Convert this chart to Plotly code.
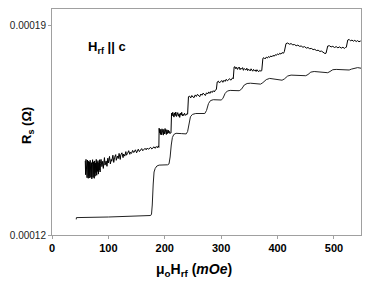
import plotly.graph_objects as go

# ---- data (field in mOe, surface resistance in units of 1e-4 Ohm) ----
lower_x = [43.0, 43.3, 100, 150, 175, 176.5, 177.8, 179.5, 181, 183, 186, 190, 198, 205,
           207.5, 209.5, 211.5, 213.5, 216, 220, 230, 238, 240.5, 243, 245.5, 249, 255, 271,
           274, 277.5, 281, 286, 300, 303, 307, 311, 316, 332, 336, 341, 346, 352, 370,
           374, 380, 386, 392, 408, 412, 418, 424, 430, 450, 454, 459, 465, 475, 489,
           493, 498, 504, 515, 527, 531, 537, 542, 548]
lower_y = [1.252, 1.258, 1.260, 1.262, 1.265, 1.270, 1.300, 1.370, 1.410, 1.422, 1.430, 1.433, 1.434, 1.434,
           1.437, 1.460, 1.500, 1.525, 1.535, 1.539, 1.538, 1.537, 1.545, 1.575, 1.594, 1.602, 1.605, 1.605,
           1.615, 1.638, 1.648, 1.651, 1.650, 1.655, 1.672, 1.680, 1.682, 1.681, 1.686, 1.700, 1.705, 1.706, 1.703,
           1.708, 1.718, 1.722, 1.721, 1.716, 1.720, 1.730, 1.733, 1.733, 1.731, 1.735, 1.743, 1.745, 1.744, 1.741,
           1.745, 1.751, 1.752, 1.751, 1.750, 1.753, 1.757, 1.758, 1.756]

upper_x = [59, 59.6, 60.3, 61, 61.5, 62.2, 63, 63.5, 64.3, 65, 65.6, 66.4, 67, 67.7, 68.5, 69.1,
           70, 70.6, 71.4, 72, 72.8, 73.5, 74.1, 75, 75.6, 76.4, 77, 77.9, 78.5, 79.3, 80, 80.8,
           81.5, 82.3, 83, 83.8, 84.5, 85.3, 86,
           87, 88.5, 90, 91, 93, 94, 96, 97.5, 99, 100, 102, 103.5, 105, 106, 108, 109.5, 111, 113,
           114, 116, 117.5, 119, 121, 122, 124, 126, 127, 129, 131, 132, 134, 136, 138, 139, 141,
           143, 145, 146, 148, 150, 152, 153, 155, 157, 159, 161, 163, 165, 167, 169, 171, 173,
           175, 177, 179, 181, 183, 185, 187, 188.5,
           189.5, 190, 190.7, 191.5, 192.2, 193, 193.6, 194.4, 195.1, 196, 196.7, 197.5, 198.2,
           199, 199.8, 200.5, 201.3, 202, 202.8, 203.6, 204.4, 205.1, 206, 206.8, 207.5, 208.5,
           211, 212, 213, 214.2, 215, 216.3, 217.4, 218.5, 219.5, 220.7, 222, 223, 224.2, 225.5,
           226.5, 227.8, 229, 230, 231.2, 232.5, 233.6, 235, 236, 237.5, 239,
           240.5, 242, 244, 246, 248, 250, 252, 254, 256, 258, 260, 262, 264, 266, 268, 270, 272,
           274, 276, 278, 280, 282, 284, 286, 288, 289.5,
           291.5, 293, 295, 297, 299, 301, 303, 305, 307, 309, 311, 313, 315, 317, 319, 320.5,
           321.5, 323, 324.5, 326, 327.5, 329, 330.5, 332, 333.5, 335, 336.5, 338, 339.5, 341, 342.5,
           344, 345.5, 347, 348.5, 350, 351.5, 353, 354.5, 356, 357.5, 359, 360.5, 362, 363.5, 365,
           366.5, 368.5,
           370.5, 372, 374, 376, 378, 380, 382, 384, 386, 388, 390, 392, 394, 396, 398, 400, 402,
           404, 406, 408,
           410.5, 412, 415, 418, 421, 424, 427, 430, 433, 436, 439, 442, 445, 448, 451, 454, 457,
           460, 463, 466, 469, 472, 475, 478, 481, 482.5,
           484, 486, 489, 492, 495, 498, 501, 504, 507, 510, 513, 516, 518.5,
           520.5, 522, 524.5, 527, 529.5, 532, 534.5, 537, 539.5, 542, 544.5, 547, 548]
upper_y = [1.447, 1.401, 1.452, 1.395, 1.438, 1.391, 1.450, 1.405, 1.389, 1.446, 1.398, 1.443, 1.390,
           1.449, 1.411, 1.393, 1.441, 1.387, 1.436, 1.451, 1.392, 1.444, 1.402, 1.389, 1.447, 1.396,
           1.440, 1.408, 1.452, 1.399, 1.443, 1.412, 1.448, 1.403, 1.441, 1.416, 1.451, 1.410, 1.439,
           1.452, 1.428, 1.446, 1.422, 1.458, 1.433, 1.447, 1.429, 1.456, 1.440, 1.462, 1.437, 1.452,
           1.446, 1.466, 1.442, 1.459, 1.468, 1.449, 1.463, 1.455, 1.472, 1.452, 1.467, 1.474, 1.458,
           1.470, 1.463, 1.478, 1.466, 1.472, 1.481, 1.469, 1.476, 1.472, 1.482, 1.475, 1.479, 1.484,
           1.474, 1.481, 1.486, 1.478, 1.483, 1.488, 1.481, 1.486, 1.489, 1.484, 1.490, 1.486, 1.488,
           1.492, 1.487, 1.491, 1.494, 1.489, 1.495, 1.491, 1.497, 1.492,
           1.556, 1.541, 1.553, 1.535, 1.551, 1.546, 1.534, 1.554, 1.539, 1.548, 1.533, 1.552, 1.544,
           1.537, 1.555, 1.540, 1.549, 1.535, 1.551, 1.543, 1.538, 1.550, 1.541, 1.547, 1.539, 1.540,
           1.606, 1.597, 1.609, 1.600, 1.593, 1.607, 1.598, 1.610, 1.595, 1.603, 1.608, 1.596, 1.604,
           1.592, 1.606, 1.600, 1.609, 1.597, 1.603, 1.598, 1.606, 1.601, 1.599, 1.604, 1.603,
           1.661, 1.663, 1.657, 1.665, 1.660, 1.658, 1.667, 1.662, 1.669, 1.664, 1.661, 1.670, 1.666,
           1.673, 1.668, 1.665, 1.674, 1.670, 1.677, 1.672, 1.679, 1.675, 1.681, 1.677, 1.683, 1.685,
           1.710, 1.713, 1.707, 1.712, 1.715, 1.709, 1.716, 1.712, 1.719, 1.714, 1.718, 1.721, 1.716,
           1.722, 1.724, 1.721,
           1.760, 1.761, 1.754, 1.759, 1.752, 1.757, 1.760, 1.751, 1.756, 1.753, 1.758, 1.749, 1.755,
           1.752, 1.750, 1.756, 1.748, 1.753, 1.751, 1.747, 1.754, 1.749, 1.746, 1.752, 1.748, 1.750,
           1.745, 1.751, 1.747, 1.744, 1.749, 1.746, 1.748,
           1.789, 1.791, 1.787, 1.793, 1.790, 1.795, 1.792, 1.797, 1.794, 1.799, 1.796, 1.801, 1.799,
           1.804, 1.801, 1.806, 1.803, 1.808, 1.806, 1.811,
           1.838, 1.840, 1.836, 1.838, 1.834, 1.835, 1.831, 1.833, 1.829, 1.830, 1.826, 1.828, 1.823,
           1.825, 1.821, 1.822, 1.818, 1.819, 1.815, 1.816, 1.812, 1.813, 1.809, 1.810, 1.805, 1.806,
           1.830, 1.831, 1.827, 1.829, 1.825, 1.828, 1.824, 1.827, 1.823, 1.826, 1.822, 1.825, 1.826,
           1.850, 1.852, 1.847, 1.850, 1.846, 1.849, 1.845, 1.848, 1.844, 1.847, 1.845, 1.846, 1.845]

y_scale = 1e-4
x_ticks = [0, 100, 200, 300, 400, 500]
y_ticks = [0.00012, 0.00019]
y_tick_text = ["0.00012", "0.00019"]

fig = go.Figure()
fig.add_trace(go.Scatter(x=lower_x, y=[v * y_scale for v in lower_y], mode="lines",
                         line=dict(color="#222222", width=1), hoverinfo="skip"))
fig.add_trace(go.Scatter(x=upper_x, y=[v * y_scale for v in upper_y], mode="lines",
                         line=dict(color="#000000", width=1), hoverinfo="skip"))

font = "Liberation Sans, Arial, sans-serif"
W, H = 374, 286
L, R, T, B = 52, 13, 9, 51
PW, PH = W - L - R, H - T - B
fig.update_layout(
    width=W, height=H,
    margin=dict(l=L, r=R, t=T, b=B, autoexpand=False),
    paper_bgcolor="white", plot_bgcolor="white",
    showlegend=False,
    font=dict(family=font, color="#000000"),
    xaxis=dict(range=[0, 548], tickvals=x_ticks, showgrid=False, zeroline=False, automargin=False,
               showline=True, linecolor="#a0a0a0", linewidth=1, mirror=True,
               ticks="outside", ticklen=3, tickcolor="#a0a0a0",
               tickfont=dict(size=11, family=font, color="#000000", weight="bold"),
               title=dict(text="")),
    yaxis=dict(range=[0.00012, 0.00019534], tickvals=y_ticks, ticktext=y_tick_text,
               showgrid=False, zeroline=False, automargin=False,
               showline=True, linecolor="#a0a0a0", linewidth=1, mirror=True,
               ticks="outside", ticklen=3, tickcolor="#a0a0a0",
               tickfont=dict(size=10, family=font, color="#222222"),
               title=dict(text="")),
    annotations=[
        dict(text="<b>H<sub>rf</sub> || c</b>", x=(86 - L) / PW, y=1 - (47 - T) / PH,
             xref="paper", yref="paper", xanchor="left", yanchor="middle",
             showarrow=False, font=dict(size=13, family=font)),
        dict(text="<b>R<sub>s</sub> (Ω)</b>", x=(27 - L) / PW, y=1 - (126 - T) / PH,
             xref="paper", yref="paper", xanchor="center", yanchor="middle",
             textangle=-90, showarrow=False, font=dict(size=13, family=font)),
        dict(text="<b>μ<sub>o</sub>H<sub>rf</sub> (<i>mOe</i>)</b>", x=(194 - L) / PW,
             y=1 - (270 - T) / PH, xref="paper", yref="paper", xanchor="center",
             yanchor="middle", showarrow=False, font=dict(size=14, family=font)),
    ],
)

fig.write_html("out.html", config={"displayModeBar": False},
               post_script="document.body.style.margin='0px';document.body.style.overflow='hidden';")
